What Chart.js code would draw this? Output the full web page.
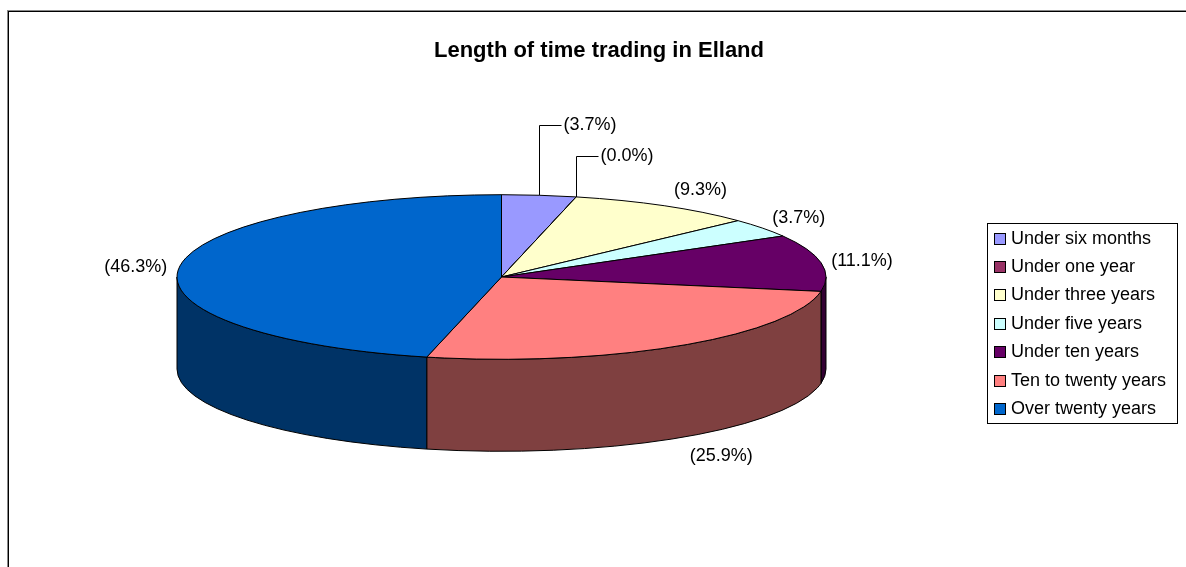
<!DOCTYPE html>
<html>
<head>
<meta charset="utf-8">
<script src="https://cdn.jsdelivr.net/npm/chart.js@4"></script>
<style>
  html, body { margin: 0; padding: 0; background: #fff; }
  canvas { display: block; }
</style>
</head>
<body>
<canvas id="pieChart" width="1186" height="567"></canvas>
<script>
const categories = ["Under six months", "Under one year", "Under three years", "Under five years",
                    "Under ten years", "Ten to twenty years", "Over twenty years"];
const shares = [3.7, 0.0, 9.3, 3.7, 11.1, 25.9, 46.3];
const sliceColors = ["#9999FF", "#993366", "#FFFFCC", "#CCFFFF", "#660066", "#FF8080", "#0066CC"];

const FONT = 'Arial, "Liberation Sans", sans-serif';

// tilted pie: top face ellipse and wall depth
const PIE = { cx: 501.5, cy: 277, rx: 324.5, ry: 82.3, depth: 92 };

function darker(hex) {
    const n = parseInt(hex.slice(1), 16);
    return `rgb(${(n >> 16) >> 1},${((n >> 8) & 255) >> 1},${(n & 255) >> 1})`;
}

// outer frame (only top and left edges show)
const frame = {
    id: "frame",
    beforeDraw(chart) {
        const ctx = chart.ctx;
        ctx.save();
        ctx.fillStyle = "#fff";
        ctx.fillRect(0, 0, chart.width, chart.height);
        ctx.fillStyle = "#888";
        ctx.fillRect(7, 10, chart.width - 7, 1);
        ctx.fillRect(7, 10, 1, chart.height - 10);
        ctx.fillStyle = "#000";
        ctx.fillRect(8, 11, chart.width - 8, 1);
        ctx.fillRect(8, 11, 1, chart.height - 11);
        ctx.restore();
    }
};

// draws the arcs computed by the pie controller as a 3D disc
const pie3d = {
    id: "pie3d",
    beforeDatasetsDraw(chart) {
        const ctx = chart.ctx;
        const arcs = chart.getDatasetMeta(0).data;
        const colors = chart.data.datasets[0].backgroundColor;
        const { cx, cy, rx, ry, depth } = PIE;
        ctx.save();
        ctx.lineWidth = 1;
        ctx.strokeStyle = "#000";
        ctx.lineJoin = "round";

        // walls: only the front half (0..PI) can be seen
        arcs.forEach((arc, i) => {
            const a1 = Math.max(arc.startAngle, 0);
            const a2 = Math.min(arc.endAngle, Math.PI);
            if (a2 <= a1) return;
            ctx.beginPath();
            ctx.ellipse(cx, cy, rx, ry, 0, a1, a2);
            ctx.ellipse(cx, cy + depth, rx, ry, 0, a2, a1, true);
            ctx.closePath();
            ctx.fillStyle = darker(colors[i]);
            ctx.fill();
            ctx.stroke();
        });

        // top face
        arcs.forEach((arc, i) => {
            ctx.beginPath();
            ctx.moveTo(cx, cy);
            ctx.ellipse(cx, cy, rx, ry, 0, arc.startAngle, arc.endAngle);
            ctx.closePath();
            ctx.fillStyle = colors[i];
            ctx.fill();
            ctx.stroke();
        });
        ctx.restore();
        return false;
    }
};

// percentage labels, small top slices get a leader line
const sliceLabels = {
    id: "sliceLabels",
    afterDraw(chart, args, opts) {
        const ctx = chart.ctx;
        const arcs = chart.getDatasetMeta(0).data;
        const values = chart.data.datasets[0].data;
        const total = values.reduce((a, b) => a + b, 0);
        const { cx, cy, rx, ry, depth } = PIE;
        ctx.save();
        ctx.font = `18px ${FONT}`;
        ctx.fillStyle = "#000";
        ctx.strokeStyle = "#000";
        ctx.lineWidth = 1;
        ctx.textBaseline = "middle";

        arcs.forEach((arc, i) => {
            const text = `(${(values[i] / total * 100).toFixed(1)}%)`;
            const mid = (arc.startAngle + arc.endAngle) / 2;
            const c = Math.cos(mid), s = Math.sin(mid);
            const px = cx + rx * c;
            const py = cy + ry * s + (s > 0 ? depth : 0);
            const rise = opts.leaders[i] || 0;

            if (rise) {
                const x = Math.round(px) + 0.5;
                const y = Math.round(py - rise) + 0.5;
                ctx.beginPath();
                ctx.moveTo(x, Math.round(py));
                ctx.lineTo(x, y);
                ctx.lineTo(x + 22, y);
                ctx.stroke();
                ctx.textAlign = "left";
                ctx.fillText(text, x + 24, y);
                return;
            }
            const gap = c >= 0 ? 10 : -12;
            ctx.textAlign = c >= 0 ? "left" : "right";
            ctx.fillText(text, px + gap, py + 20 * s + 2);
        });
        ctx.restore();
    }
};

// boxed legend on the right
const boxedLegend = {
    id: "boxedLegend",
    afterDraw(chart, args, opts) {
        const ctx = chart.ctx;
        const colors = chart.data.datasets[0].backgroundColor;
        const { left, top, width, height, firstRow, rowHeight } = opts;
        ctx.save();
        ctx.lineWidth = 1;
        ctx.strokeStyle = "#000";
        ctx.strokeRect(left + 0.5, top + 0.5, width, height);
        ctx.font = `18px ${FONT}`;
        ctx.textAlign = "left";
        ctx.textBaseline = "middle";
        chart.data.labels.forEach((label, i) => {
            const y = Math.round(top + firstRow + i * rowHeight);
            ctx.fillStyle = colors[i];
            ctx.fillRect(left + 7, y - 6, 12, 12);
            ctx.strokeRect(left + 7.5, y - 5.5, 11, 11);
            ctx.fillStyle = "#000";
            ctx.fillText(label, left + 24, y + 0.5);
        });
        ctx.restore();
    }
};

new Chart(document.getElementById("pieChart"), {
    type: "pie",
    data: {
        labels: categories,
        datasets: [{ data: shares, backgroundColor: sliceColors }]
    },
    options: {
        responsive: false,
        animation: false,
        devicePixelRatio: 1,
        layout: { padding: { left: 12 } },
        plugins: {
            legend: { display: false },
            tooltip: { enabled: false },
            title: {
                display: true,
                text: "Length of time trading in Elland",
                color: "#000",
                font: { family: FONT, size: 22, weight: "bold" },
                padding: { top: 38, bottom: 10 }
            },
            sliceLabels: { leaders: [70, 41, 0, 0, 0, 0, 0] },
            boxedLegend: { left: 987, top: 223, width: 190, height: 200, firstRow: 15.5, rowHeight: 28.4 }
        }
    },
    plugins: [frame, pie3d, sliceLabels, boxedLegend]
});
</script>
</body>
</html>
